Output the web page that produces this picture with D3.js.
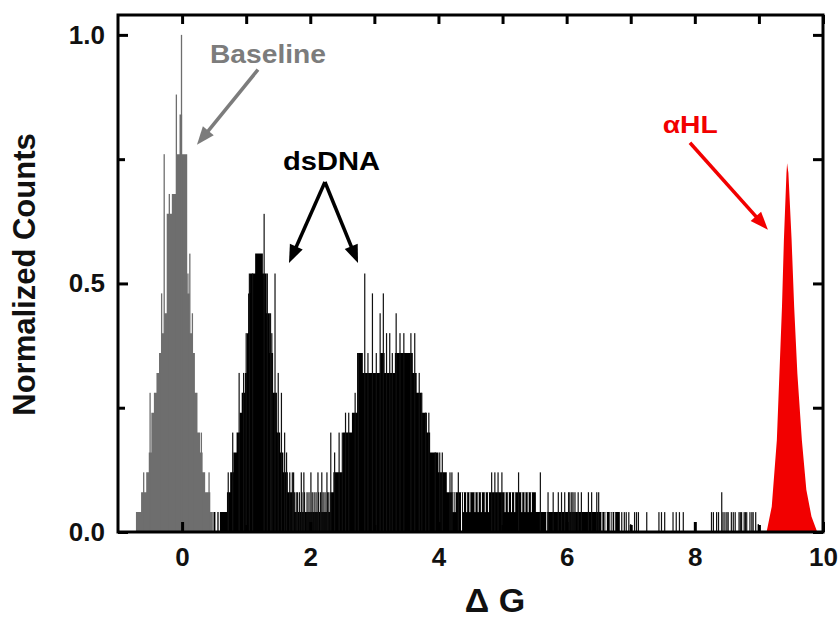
<!DOCTYPE html>
<html>
<head>
<meta charset="utf-8">
<script src="https://cdn.jsdelivr.net/npm/d3@7"></script>
<style>
  body { margin: 0; background: #fff; }
  svg { display: block; font-family: "Liberation Sans", Arial, sans-serif; }
  .tick text { font-weight: bold; font-size: 26px; fill: #111; }
  .tick line { stroke: #000; stroke-width: 3; }
</style>
</head>
<body>
<div id="chart"></div>
<script>
const X_TICKS = [0, 2, 4, 6, 8, 10];
const X_MINOR = [1, 3, 5, 7, 9];
const Y_TICKS = [0, 0.5, 1.0];
const Y_MINOR = [0.25, 0.75];
const MAX_COUNT = 25;

// baseline histogram, bins of 0.04 starting at -0.72 (counts)
const BASELINE_START = -0.72;
const BIN_WIDTH = 0.04;
const BASELINE_COUNTS = [1, 1, 2, 2, 3, 4, 6, 7, 8, 9, 10, 11, 16, 16, 17, 17, 19, 21, 19, 19, 12, 10, 9, 7, 5, 4, 3, 2, 2, 1];
const BASELINE_SPIKES = [[-0.28, 19], [-0.2, 17], [-0.09, 22], [-0.01, 25], [0.09, 13], [0.12, 14], [-0.32, 12], [0.16, 11], [-0.5, 7], [-0.6, 3], [0.3, 5], [0.42, 3]];

// dsDNA histogram: solid runs [from, to, count]
const DSDNA_SEGMENTS = [
  [0.49, 0.52, 1], [0.55, 0.57, 1], [0.59, 0.7, 1], [0.7, 0.75, 2], [0.75, 0.8, 3],
  [0.8, 0.85, 4], [0.85, 0.9, 5], [0.9, 0.93, 6], [0.93, 0.98, 7], [0.98, 1.01, 8],
  [1.01, 1.03, 10], [1.03, 1.06, 12], [1.06, 1.14, 13], [1.14, 1.26, 14], [1.26, 1.32, 13],
  [1.32, 1.37, 11], [1.37, 1.42, 9], [1.42, 1.48, 7], [1.48, 1.53, 5], [1.53, 1.58, 4],
  [1.58, 1.65, 3], [1.65, 1.76, 2], [1.76, 2.31, 1], [2.31, 2.36, 2], [2.36, 2.51, 3],
  [2.51, 2.65, 5], [2.65, 2.73, 6], [2.73, 2.82, 9], [2.82, 3.09, 8], [3.09, 3.16, 9],
  [3.16, 3.32, 8], [3.32, 3.6, 9], [3.6, 3.66, 8], [3.66, 3.74, 7], [3.74, 3.82, 6],
  [3.82, 3.87, 5], [3.87, 4.0, 4], [4.0, 4.13, 3], [4.13, 5.52, 2], [5.52, 6.83, 1],
];
// single bins sticking out above the runs [x, count]
const DSDNA_SPIKES = [
  [0.72, 3], [0.79, 5], [0.89, 8], [0.96, 8], [1.0, 10], [1.05, 13], [1.1, 13], [1.28, 16],
  [1.33, 13], [1.38, 11], [1.4, 10], [1.45, 13], [1.5, 8], [1.55, 7], [1.6, 5], [1.63, 4],
  [1.68, 3], [1.72, 3], [1.74, 3],
  [1.78, 2], [1.8, 2], [1.83, 2], [1.86, 3], [1.87, 2], [1.9, 3], [1.91, 2], [1.95, 2], [1.98, 2],
  [2.01, 3], [2.03, 2], [2.06, 2], [2.09, 2], [2.12, 3], [2.13, 2], [2.16, 2], [2.18, 3],
  [2.2, 2], [2.23, 2], [2.26, 3], [2.27, 2], [2.29, 2],
  [2.32, 5], [2.38, 4], [2.45, 5], [2.5, 5], [2.55, 6], [2.6, 6], [2.7, 7], [2.75, 9],
  [2.85, 13], [2.9, 9], [2.97, 12], [3.03, 9], [3.09, 11], [3.14, 12], [3.19, 10], [3.24, 10],
  [3.28, 9], [3.34, 11], [3.4, 10], [3.46, 10], [3.57, 10], [3.63, 10], [3.7, 8], [3.74, 7],
  [3.8, 6], [3.85, 6], [3.95, 4], [4.02, 4], [4.06, 4],
  [4.18, 3], [4.21, 3], [4.31, 3], [4.83, 3], [4.88, 3], [4.93, 3], [4.99, 3], [5.25, 3], [5.59, 3],
  [5.71, 2], [5.79, 2], [5.87, 2], [5.92, 2], [5.97, 2], [6.03, 2], [6.05, 2], [6.08, 2], [6.1, 2],
  [6.13, 2], [6.18, 2], [6.23, 2], [6.34, 2], [6.39, 2], [6.47, 2], [6.5, 2],
  [6.86, 1], [6.9, 1], [6.93, 1], [6.97, 1], [7.0, 0.4], [7.06, 1], [7.09, 1], [7.12, 1], [7.25, 1],
  [7.44, 1], [7.48, 1], [7.53, 1], [7.66, 1], [7.71, 1], [7.76, 1], [7.82, 1], [8.0, 0.4],
  [8.26, 1], [8.29, 1], [8.34, 1], [8.37, 1], [8.42, 2], [8.44, 1], [8.47, 1], [8.5, 1], [8.52, 1],
  [8.57, 1], [8.6, 1], [8.63, 1], [8.69, 1], [8.71, 1], [8.73, 1], [8.77, 1], [8.79, 1], [8.81, 1],
  [8.86, 1], [8.89, 1], [8.91, 1], [8.95, 1], [8.99, 0.4],
];
// bins lower than the surrounding run [x, count]
const DSDNA_GAPS = [
  [4.23, 1], [4.26, 1], [4.36, 0], [4.39, 1], [4.44, 1], [4.49, 1], [4.57, 1], [4.62, 1],
  [4.67, 1], [4.73, 1], [4.78, 1], [5.04, 1], [5.09, 1], [5.14, 1], [5.19, 1], [5.3, 1],
  [5.35, 1], [5.4, 1], [5.45, 1], [5.69, 0], [6.55, 0], [6.6, 0], [6.62, 0], [6.68, 0],
  [6.71, 0], [6.75, 0],
];

// alpha-hemolysin peak outline
const ALPHA_HL_X = [9.12, 9.2, 9.28, 9.32, 9.36, 9.39, 9.43, 9.44, 9.46, 9.51, 9.55, 9.6, 9.67, 9.74, 9.82, 9.91];
const ALPHA_HL_Y = [0, 0.051, 0.185, 0.319, 0.453, 0.588, 0.722, 0.742, 0.722, 0.588, 0.453, 0.319, 0.185, 0.085, 0.031, 0];

const GRAY = "#6e6e6e";
const RED = "#f20000";

function norm(count) {
  return count / MAX_COUNT;
}

// turn the runs into step points for one filled path
function segmentSteps(segments) {
  const steps = [];
  segments.forEach(([x0, x1, c], i) => {
    steps.push([x0, c]);
    const next = segments[i + 1];
    if (!next || next[0] > x1) steps.push([x1, 0]);
  });
  return steps;
}

function drawArrow(g, x, y, from, to, color) {
  const x1 = x(from[0]), y1 = y(from[1]), x2 = x(to[0]), y2 = y(to[1]);
  const len = Math.hypot(x2 - x1, y2 - y1);
  const ux = (x2 - x1) / len, uy = (y2 - y1) / len;
  const head = 18, half = 7;
  const bx = x2 - ux * head, by = y2 - uy * head;
  g.append("line")
    .attr("x1", x1).attr("y1", y1)
    .attr("x2", bx + ux * 2).attr("y2", by + uy * 2)
    .attr("stroke", color).attr("stroke-width", 3.5);
  g.append("path")
    .attr("d", `M${x2},${y2}L${bx - uy * half},${by + ux * half}L${bx + uy * half},${by - ux * half}Z`)
    .attr("fill", color);
}

function renderChart() {
  const width = 840, height = 619;
  const margin = { top: 15, right: 17, bottom: 87, left: 118 };
  const svg = d3.select("#chart").append("svg").attr("width", width).attr("height", height);

  const x = d3.scaleLinear().domain([-1, 10]).range([margin.left, width - margin.right]);
  const y = d3.scaleLinear().domain([0, 1.04]).range([height - margin.bottom, margin.top]);
  const y0 = y(0);

  const plot = svg.append("g");
  const stepArea = d3.area()
    .curve(d3.curveStepAfter)
    .x((d) => x(d[0]))
    .y0(y0)
    .y1((d) => y(norm(d[1])));

  // baseline (grey)
  const baselineSteps = BASELINE_COUNTS.map((c, i) => [BASELINE_START + i * BIN_WIDTH, c]);
  baselineSteps.push([BASELINE_START + BASELINE_COUNTS.length * BIN_WIDTH, 0]);
  plot.append("path").datum(baselineSteps).attr("d", stepArea).attr("fill", GRAY);

  plot.append("g")
    .selectAll("rect")
    .data(BASELINE_SPIKES)
    .join("rect")
    .attr("x", (d) => x(d[0]) - 0.6)
    .attr("width", 1.3)
    .attr("y", (d) => y(norm(d[1])))
    .attr("height", (d) => y0 - y(norm(d[1])))
    .attr("fill", GRAY);

  // dsDNA (black)
  plot.append("path").datum(segmentSteps(DSDNA_SEGMENTS)).attr("d", stepArea).attr("fill", "#000");

  plot.append("g")
    .selectAll("rect")
    .data(DSDNA_GAPS)
    .join("rect")
    .attr("x", (d) => x(d[0]) - 0.5)
    .attr("width", 1)
    .attr("y", (d) => {
      const seg = DSDNA_SEGMENTS.find((s) => d[0] >= s[0] && d[0] <= s[1]);
      return y(norm(seg ? seg[2] : d[1]));
    })
    .attr("height", (d) => {
      const seg = DSDNA_SEGMENTS.find((s) => d[0] >= s[0] && d[0] <= s[1]);
      return y(norm(d[1])) - y(norm(seg ? seg[2] : d[1]));
    })
    .attr("fill", "#fff");

  plot.append("g")
    .selectAll("rect")
    .data(DSDNA_SPIKES)
    .join("rect")
    .attr("x", (d) => x(d[0]) - 0.6)
    .attr("width", 1.2)
    .attr("y", (d) => y(norm(d[1])))
    .attr("height", (d) => y0 - y(norm(d[1])))
    .attr("fill", "#111");

  // alpha-HL (red)
  const area = d3.area()
    .x((d, i) => x(ALPHA_HL_X[i]))
    .y0(y0)
    .y1((d) => y(d));
  plot.append("path").datum(ALPHA_HL_Y).attr("d", area).attr("fill", RED);

  // axes, inward ticks on all four sides
  const plotW = width - margin.left - margin.right;
  const plotH = height - margin.top - margin.bottom;

  svg.append("g")
    .attr("transform", `translate(0, ${y0})`)
    .call(d3.axisBottom(x).tickValues(X_TICKS).tickSize(-10).tickPadding(16).tickFormat(d3.format("d")))
    .call((g) => g.select(".domain").remove());
  svg.append("g")
    .attr("transform", `translate(0, ${y0})`)
    .call(d3.axisBottom(x).tickValues(X_MINOR).tickSize(-7).tickFormat(""))
    .call((g) => g.select(".domain").remove());
  svg.append("g")
    .attr("transform", `translate(0, ${margin.top})`)
    .call(d3.axisTop(x).tickValues(X_TICKS.concat(X_MINOR)).tickSize(-9).tickFormat(""))
    .call((g) => g.select(".domain").remove());

  svg.append("g")
    .attr("transform", `translate(${margin.left}, 0)`)
    .call(d3.axisLeft(y).tickValues(Y_TICKS).tickSize(-10).tickPadding(13).tickFormat(d3.format(".1f")))
    .call((g) => g.select(".domain").remove());
  svg.append("g")
    .attr("transform", `translate(${margin.left}, 0)`)
    .call(d3.axisLeft(y).tickValues(Y_MINOR).tickSize(-7).tickFormat(""))
    .call((g) => g.select(".domain").remove());
  svg.append("g")
    .attr("transform", `translate(${width - margin.right}, 0)`)
    .call(d3.axisRight(y).tickValues(Y_TICKS.concat(Y_MINOR)).tickSize(-10).tickFormat(""))
    .call((g) => g.select(".domain").remove());

  svg.append("rect")
    .attr("x", margin.left)
    .attr("y", margin.top)
    .attr("width", plotW)
    .attr("height", plotH)
    .attr("fill", "none")
    .attr("stroke", "#000")
    .attr("stroke-width", 3);

  // axis titles
  svg.append("text")
    .attr("x", 495)
    .attr("y", 612)
    .attr("text-anchor", "middle")
    .attr("font-weight", "bold")
    .attr("font-size", 34)
    .attr("fill", "#111")
    .text("Δ G");

  svg.append("text")
    .attr("transform", `translate(35, ${margin.top + plotH / 2 + 1}) rotate(-90)`)
    .attr("text-anchor", "middle")
    .attr("font-weight", "bold")
    .attr("font-size", 31)
    .attr("fill", "#111")
    .text("Normalized Counts");

  // annotations
  const notes = svg.append("g");
  notes.append("text")
    .attr("x", x(0.435)).attr("y", y(0.944))
    .attr("font-weight", "bold").attr("font-size", 26)
    .attr("textLength", 116).attr("lengthAdjust", "spacingAndGlyphs")
    .attr("fill", "#7c7c7c")
    .text("Baseline");
  drawArrow(notes, x, y, [1.184, 0.93], [0.232, 0.779], "#7c7c7c");

  notes.append("text")
    .attr("x", x(1.574)).attr("y", y(0.728))
    .attr("font-weight", "bold").attr("font-size", 25)
    .attr("textLength", 97).attr("lengthAdjust", "spacingAndGlyphs")
    .attr("fill", "#000")
    .text("dsDNA");
  drawArrow(notes, x, y, [2.229, 0.704], [1.668, 0.541], "#000");
  drawArrow(notes, x, y, [2.229, 0.704], [2.745, 0.541], "#000");

  notes.append("text")
    .attr("x", x(7.5)).attr("y", y(0.803))
    .attr("font-weight", "bold").attr("font-size", 24)
    .attr("textLength", 55).attr("lengthAdjust", "spacingAndGlyphs")
    .attr("fill", RED)
    .text("αHL");
  drawArrow(notes, x, y, [7.924, 0.783], [9.14, 0.608], RED);
}

renderChart();
</script>
</body>
</html>
